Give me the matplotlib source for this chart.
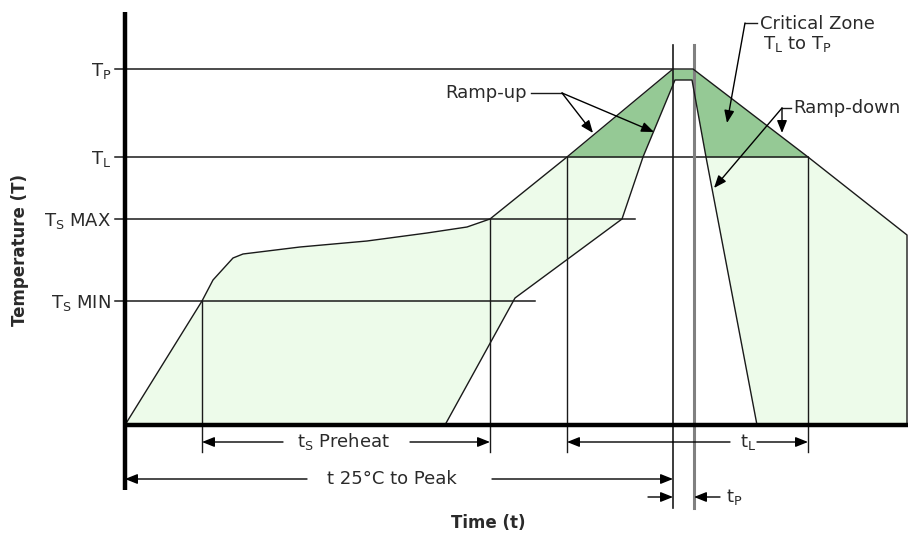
import matplotlib
matplotlib.use('Agg')
import matplotlib.pyplot as plt

# reflow profile, time / temperature in diagram units (origin = axis corner)
level_names = ['T$_\\mathregular{P}$', 'T$_\\mathregular{L}$',
               'T$_\\mathregular{S}$ MAX', 'T$_\\mathregular{S}$ MIN']
level_T = [356, 268, 206, 124]
level_end = [548, 683, 510, 410]

outer_t = [0, 77, 88, 108, 118, 175, 242, 302, 342, 365, 442, 548, 568, 683, 782, 782]
outer_T = [0, 124, 145, 167, 171, 178, 184, 192, 198, 206, 268, 356, 356, 268, 190, 0]

inner_t = [320, 390, 497, 518, 550, 567, 581, 632]
inner_T = [0, 127, 206, 268, 345, 345, 268, 0]

t_smin, t_smax = 77, 365
tl_start, tl_end = 442, 683
tp_start, tp_end = 548, 569

T_P, T_L = level_T[0], level_T[1]

light = '#edfbea'
dark = '#95c995'
ink = '#1a1a1a'
txt = '#2a2a2a'
fs = 13

fig = plt.figure(figsize=(9.08, 5.33), dpi=100)
ax = fig.add_axes([0, 0, 1, 1])
ax.set_xlim(-125, 783)
ax.set_ylim(-108, 425)
ax.axis('off')

# fills
ax.fill(outer_t, outer_T, color=light, lw=0)
i0, i1 = outer_t.index(tl_start), outer_t.index(tl_end) + 1
ax.fill_between(outer_t[i0:i1], T_L, outer_T[i0:i1], color=dark, lw=0)
ax.fill(inner_t + [inner_t[0]], inner_T + [inner_T[0]], color='white', lw=0)

# level guides and labels
for name, T, end in zip(level_names, level_T, level_end):
    ax.plot([-10, end], [T, T], color=ink, lw=1.1)
    ax.text(-14, T - 7, name, ha='right', va='baseline', fontsize=fs, color=txt)

# verticals
for t, T in [(t_smin, level_T[3]), (t_smax, level_T[2]), (tl_start, T_L), (tl_end, T_L)]:
    ax.plot([t, t], [T, -27], color=ink, lw=1.0)
ax.plot([tp_start, tp_start], [380, -83], color=ink, lw=1.2)
ax.plot([tp_end, tp_end], [380, -83], color='#808080', lw=2.2)

# profile outlines
ax.plot(outer_t, outer_T, color=ink, lw=1.0)
ax.plot(inner_t, inner_T, color=ink, lw=1.0)

# axes
ax.plot([0, 0], [413, -65], color='black', lw=3.2, solid_capstyle='butt')
ax.plot([-1, 783], [0, 0], color='black', lw=3.2, solid_capstyle='butt')

head = dict(arrowstyle='-|>,head_length=0.75,head_width=0.3', color='black',
            lw=1.0, shrinkA=0, shrinkB=0, mutation_scale=10)


def arrow(tip, tail):
    ax.annotate('', xy=tip, xytext=tail, arrowprops=head)


# dimension arrows
arrow((t_smin, -17), (158, -17))
arrow((t_smax, -17), (285, -17))
ax.text(218, -17, 't$_\\mathregular{S}$ Preheat', ha='center', va='center',
        fontsize=fs, color=txt)

arrow((0, -54), (182, -54))
arrow((tp_start, -54), (367, -54))
ax.text(267, -54, 't 25°C to Peak', ha='center', va='center', fontsize=fs, color=txt)

arrow((tl_start, -17), (605, -17))
arrow((tl_end, -17), (632, -17))
ax.text(623, -17, 't$_\\mathregular{L}$', ha='center', va='center', fontsize=fs, color=txt)

arrow((tp_start, -72), (523, -72))
arrow((tp_end, -72), (595, -72))
ax.text(601, -72, 't$_\\mathregular{P}$', ha='left', va='center', fontsize=fs, color=txt)

# callouts
ax.text(320, 332, 'Ramp-up', ha='left', va='center', fontsize=fs, color=txt)
ax.plot([406, 437], [332, 332], color=ink, lw=1.0)
arrow((468, 292), (437, 332))
arrow((529, 293), (437, 332))

ax.text(635, 401, 'Critical Zone', ha='left', va='center', fontsize=fs, color=txt)
ax.text(638, 381, 'T$_\\mathregular{L}$ to T$_\\mathregular{P}$', ha='left', va='center',
        fontsize=fs, color=txt)
ax.plot([632, 620], [402, 402], color=ink, lw=1.0)
arrow((602, 302), (620, 402))

ax.text(668, 317, 'Ramp-down', ha='left', va='center', fontsize=fs, color=txt)
ax.plot([666, 657], [317, 317], color=ink, lw=1.0)
arrow((657, 292), (657, 317))
arrow((589, 237), (657, 317))

# axis titles
ax.text(-105, 175, 'Temperature (T)', rotation=90, ha='center', va='center',
        fontsize=12, fontweight='bold', color=txt)
ax.text(363, -107, 'Time (t)', ha='center', va='bottom', fontsize=12,
        fontweight='bold', color=txt)

fig.savefig('out.png', dpi=100)
